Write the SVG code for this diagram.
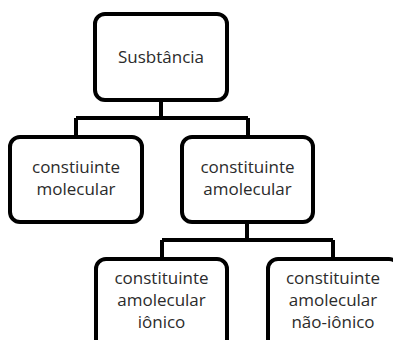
<svg xmlns="http://www.w3.org/2000/svg" width="393" height="340" viewBox="0 0 393 340">
<style>
.box{fill:#fff;stroke:#000;stroke-width:4}
.ln{fill:none;stroke:#000;stroke-width:4}
text{font-family:"Open Sans",Lato,sans-serif;font-size:17px;fill:#2b2b2b;text-anchor:middle}
</style>
<rect width="393" height="340" fill="#fff"/>
<g id="connectors">
<path class="ln" d="M161 100V118M76 118H248M76 118V137M248 118V137"/>
<path class="ln" d="M247 222V240M162 240H333M162 240V259M333 240V259"/>
</g>
<g id="n1"><rect class="box" x="95" y="14" width="132" height="86" rx="10"/><text x="161" y="63">Susbtância</text></g>
<g id="n2"><rect class="box" x="10" y="137" width="132" height="85" rx="10"/><text x="76" y="173">constiuinte</text><text x="76" y="195">molecular</text></g>
<g id="n3"><rect class="box" x="182" y="137" width="131" height="85" rx="10"/><text x="247.5" y="173">constituinte</text><text x="247.5" y="195">amolecular</text></g>
<g id="n4"><rect class="box" x="96" y="259" width="131" height="100" rx="10"/><text x="161.5" y="284">constituinte</text><text x="161.5" y="306">amolecular</text><text x="161.5" y="328">iônico</text></g>
<g id="n5"><rect class="box" x="268" y="259" width="131" height="100" rx="10"/><text x="333" y="284">constituinte</text><text x="333" y="306">amolecular</text><text x="333" y="328">não-iônico</text></g>
</svg>
